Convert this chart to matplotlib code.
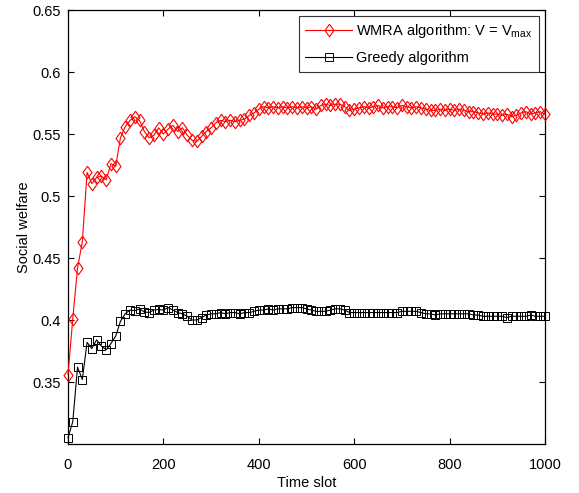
import matplotlib
matplotlib.use("Agg")
import matplotlib.pyplot as plt

time_slots = list(range(0, 1001, 10))

wmra = [0.356, 0.401, 0.442, 0.463, 0.519, 0.510, 0.515, 0.516, 0.513, 0.526,
        0.524, 0.547, 0.556, 0.561, 0.564, 0.561, 0.552, 0.547, 0.549, 0.555,
        0.550, 0.554, 0.557, 0.552, 0.555, 0.549, 0.545, 0.544, 0.548, 0.552,
        0.555, 0.559, 0.561, 0.560, 0.561, 0.560, 0.561, 0.562, 0.565, 0.567,
        0.570, 0.572, 0.571, 0.572, 0.571, 0.572, 0.571, 0.572, 0.571, 0.572,
        0.571, 0.572, 0.570, 0.573, 0.574, 0.573, 0.574, 0.574, 0.572, 0.569,
        0.570, 0.571, 0.572, 0.571, 0.572, 0.573, 0.571, 0.572, 0.572, 0.571,
        0.573, 0.572, 0.571, 0.572, 0.571, 0.570, 0.569, 0.569, 0.570, 0.569,
        0.570, 0.569, 0.570, 0.569, 0.568, 0.568, 0.567, 0.566, 0.567, 0.566,
        0.566, 0.565, 0.566, 0.564, 0.565, 0.567, 0.568, 0.566, 0.567, 0.568,
        0.566]

greedy = [0.305, 0.318, 0.362, 0.352, 0.382, 0.377, 0.384, 0.379, 0.376, 0.381,
          0.387, 0.399, 0.405, 0.408, 0.4075, 0.409, 0.4065, 0.406, 0.408, 0.4085,
          0.408, 0.410, 0.408, 0.406, 0.405, 0.403, 0.400, 0.400, 0.402, 0.404,
          0.405, 0.405, 0.406, 0.405, 0.406, 0.406, 0.405, 0.406, 0.406, 0.407,
          0.408, 0.408, 0.409, 0.408, 0.409, 0.409, 0.409, 0.410, 0.410, 0.410,
          0.409, 0.408, 0.407, 0.407, 0.407, 0.408, 0.409, 0.409, 0.408, 0.406,
          0.406, 0.406, 0.406, 0.406, 0.406, 0.406, 0.406, 0.406, 0.406, 0.406,
          0.407, 0.407, 0.407, 0.407, 0.406, 0.405, 0.405, 0.404, 0.405, 0.405,
          0.405, 0.405, 0.405, 0.405, 0.405, 0.404, 0.404, 0.403, 0.403, 0.403,
          0.403, 0.403, 0.402, 0.403, 0.403, 0.403, 0.403, 0.404, 0.403, 0.403,
          0.403]

x_ticks = [0, 200, 400, 600, 800, 1000]
y_ticks = [0.35, 0.4, 0.45, 0.5, 0.55, 0.6, 0.65]
y_tick_labels = ["0.35", "0.4", "0.45", "0.5", "0.55", "0.6", "0.65"]

plt.rcParams['font.family'] = ['Liberation Sans', 'DejaVu Sans']
plt.rcParams['mathtext.default'] = 'regular'

fig = plt.figure(figsize=(5.79, 4.93), dpi=100)
ax = fig.add_axes([68/579, 49/493, 477/579, 434/493])

diamond = [(0, 1), (0.72, 0), (0, -1), (-0.72, 0), (0, 1)]

ax.plot(time_slots, wmra, color='red', linewidth=0.8, marker=diamond,
        markersize=9, markerfacecolor='none', markeredgecolor='red',
        markeredgewidth=0.8, label='WMRA algorithm: V = V$_{max}$',
        clip_on=False, zorder=3)
ax.plot(time_slots, greedy, color='black', linewidth=0.8, marker='s',
        markersize=5.5, markerfacecolor='none', markeredgecolor='black',
        markeredgewidth=0.7, label='Greedy algorithm',
        clip_on=False, zorder=3)

ax.set_xlim(0, 1000)
ax.set_ylim(0.3, 0.65)
ax.set_xticks(x_ticks)
ax.set_yticks(y_ticks)
ax.set_yticklabels(y_tick_labels)
ax.tick_params(direction='in', top=True, right=True, labelsize=10.5,
               length=4, width=0.8, pad=5)
ax.tick_params(axis='x', pad=10)
for s in ax.spines.values():
    s.set_linewidth(0.9)

ax.set_xlabel('Time slot', fontsize=10.5, labelpad=3)
ax.set_ylabel('Social welfare', fontsize=10.5, labelpad=1)

leg = ax.legend(loc='upper right', fontsize=10.5, frameon=True, fancybox=False,
                edgecolor='black', handlelength=3.2, handletextpad=0.3,
                borderpad=0.45, labelspacing=0.75, borderaxespad=0.4)
leg.get_frame().set_linewidth(0.8)
leg.set_zorder(5)

fig.savefig('out.png', dpi=100)
